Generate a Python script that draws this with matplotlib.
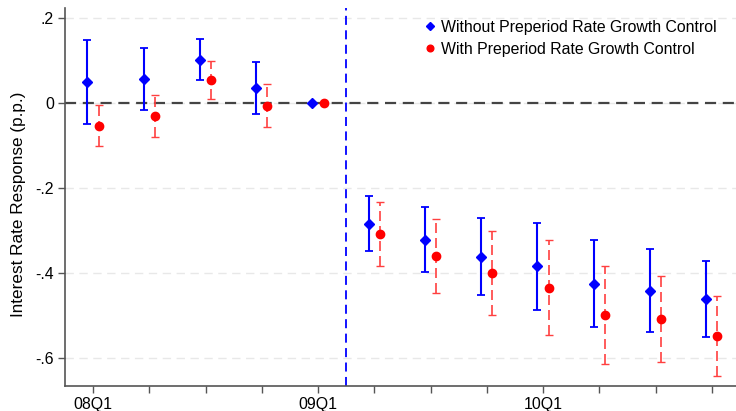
import numpy as np
import matplotlib.pyplot as plt

plt.rcParams["font.family"] = ["Liberation Sans", "DejaVu Sans"]

quarters = ["08Q1", "08Q2", "08Q3", "08Q4", "09Q1", "09Q2",
            "09Q3", "09Q4", "10Q1", "10Q2", "10Q3", "10Q4"]

# without preperiod control (blue)
blue_est = [0.050, 0.058, 0.103, 0.036, 0.0, -0.284, -0.323, -0.363, -0.385, -0.426, -0.442, -0.462]
blue_hi = [0.149, 0.131, 0.151, 0.098, 0.0, -0.219, -0.246, -0.271, -0.283, -0.323, -0.345, -0.372]
blue_lo = [-0.049, -0.015, 0.055, -0.026, 0.0, -0.349, -0.399, -0.453, -0.487, -0.529, -0.539, -0.551]

# with preperiod control (red)
red_est = [-0.053, -0.030, 0.054, -0.007, 0.0, -0.308, -0.361, -0.401, -0.435, -0.500, -0.510, -0.550]
red_hi = [-0.005, 0.020, 0.099, 0.045, 0.0, -0.234, -0.274, -0.301, -0.323, -0.385, -0.408, -0.455]
red_lo = [-0.100, -0.079, 0.011, -0.057, 0.0, -0.383, -0.447, -0.500, -0.547, -0.615, -0.611, -0.644]

ytick_vals = [0.2, 0.0, -0.2, -0.4, -0.6]
ytick_labels = [".2", "0", "-.2", "-.4", "-.6"]

x = np.arange(len(quarters))
blue_est, blue_hi, blue_lo = map(np.array, (blue_est, blue_hi, blue_lo))
red_est, red_hi, red_lo = map(np.array, (red_est, red_hi, red_lo))

fig = plt.figure(figsize=(7.36, 4.11), dpi=100)
ax = fig.add_axes([0.0883, 0.061, 0.9117, 0.919])

for yv in ytick_vals:
    ax.axhline(yv, color="#e8e8e8", lw=1.0, ls=(0, (6, 4)), zorder=0)
ax.axhline(0, color="#444444", lw=1.6, ls=(0, (5, 3)), zorder=1)
ax.axvline(4.5, color="blue", lw=1.3, ls=(0, (5, 3)), zorder=1)

# skip zero-width bars at the base quarter
m = blue_hi != blue_lo
ax.errorbar(x[m] - 0.1, blue_est[m],
            yerr=[blue_est[m] - blue_lo[m], blue_hi[m] - blue_est[m]],
            fmt="none", ecolor="blue", elinewidth=1.5, capsize=3, capthick=1.3, zorder=2)
eb2 = ax.errorbar(x[m] + 0.1, red_est[m],
                  yerr=[red_est[m] - red_lo[m], red_hi[m] - red_est[m]],
                  fmt="none", ecolor="#ff4040", elinewidth=1.2, capsize=3, capthick=1.0, zorder=2)
eb2[2][0].set_linestyle((0, (6, 3)))

ax.plot(x - 0.1, blue_est, "D", color="blue", ms=5.5, ls="none",
        label="Without Preperiod Rate Growth Control", zorder=3)
ax.plot(x + 0.1, red_est, "o", color="red", ms=6.0, ls="none",
        label="With Preperiod Rate Growth Control", zorder=3)

ax.set_xlim(-0.5, 11.43)
ax.set_ylim(-0.667, 0.224)
ax.set_xticks(x)
ax.set_xticklabels([q if i % 4 == 0 else "" for i, q in enumerate(quarters)], fontsize=11.4)
ax.set_yticks(ytick_vals)
ax.set_yticklabels(ytick_labels, fontsize=11.4)
ax.tick_params(axis="both", direction="out", length=5, color="#555555", width=1.0, pad=3)
ax.set_ylabel("Interest Rate Response (p.p.)", fontsize=12.3)
ax.yaxis.set_label_coords(-0.058, 0.48)

for side in ["top", "right"]:
    ax.spines[side].set_visible(False)
for side in ["left", "bottom"]:
    ax.spines[side].set_color("#555555")
    ax.spines[side].set_linewidth(1.2)

ax.legend(loc="upper right", frameon=False, fontsize=11.4, handletextpad=0.2,
          handlelength=1.0, borderaxespad=0.2, labelspacing=0.45, markerscale=0.8,
          bbox_to_anchor=(0.985, 0.995))

fig.savefig("out.png", dpi=100)
